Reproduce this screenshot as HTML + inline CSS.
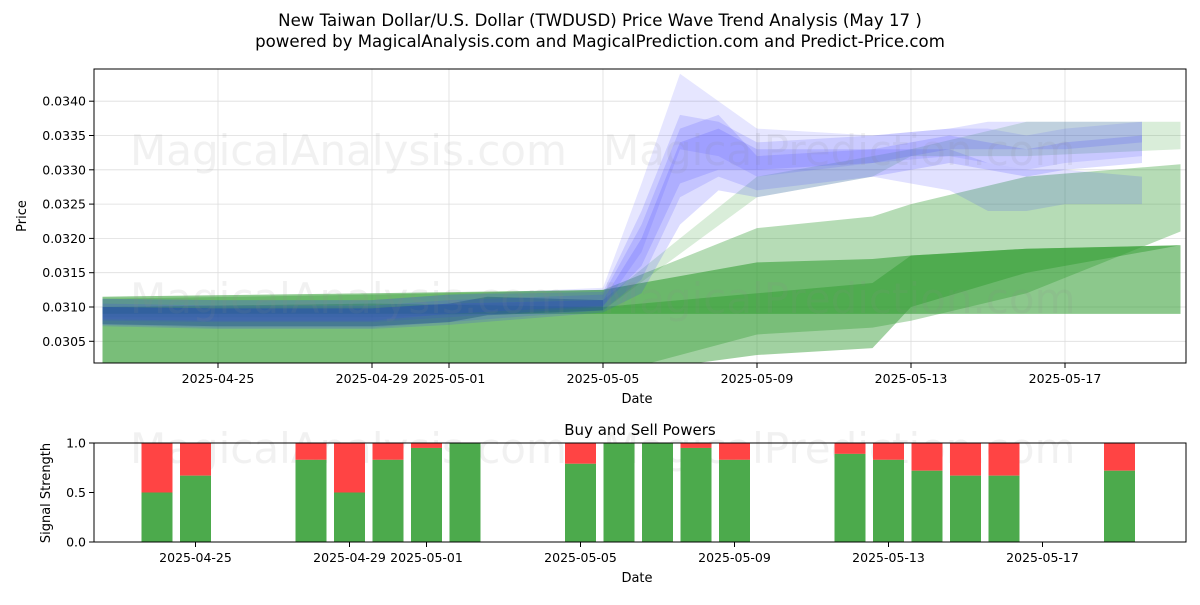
<!DOCTYPE html>
<html><head><meta charset="utf-8"><style>
body{margin:0;background:#fff;font-family:"Liberation Sans","DejaVu Sans",sans-serif}
svg text{font-family:"DejaVu Sans","Liberation Sans",sans-serif}
</style></head><body>
<svg id="c" width="1200" height="600" xmlns="http://www.w3.org/2000/svg">
<rect width="1200" height="600" fill="#fff"/>
<text x="600" y="26" font-size="16.6" text-anchor="middle">New Taiwan Dollar/U.S. Dollar (TWDUSD) Price Wave Trend Analysis (May 17 )</text>
<text x="600" y="47" font-size="16.6" text-anchor="middle">powered by MagicalAnalysis.com and MagicalPrediction.com and Predict-Price.com</text>
<defs><clipPath id="cp1"><rect x="94" y="69" width="1092" height="294"/></clipPath><clipPath id="cp2"><rect x="94" y="443" width="1092" height="99"/></clipPath></defs>
<g id="topg"></g>
<g id="botg"></g>
</svg>
<script>
const tickDates=["2025-04-25","2025-04-29","2025-05-01","2025-05-05","2025-05-09","2025-05-13","2025-05-17"];
const tickDays=[3,7,9,13,17,21,25];
const yTicks=[0.0305,0.0310,0.0315,0.0320,0.0325,0.0330,0.0335,0.0340];
const blueDays=[0,3,7,9,13,14,15,16,17,20,22,23,24,25,27];
const blueLow1=[0.03072,0.03068,0.03068,0.03074,0.03092,0.0312,0.0322,0.0327,0.0326,0.0329,0.0331,0.0330,0.0329,0.0330,0.0331];
const blueHigh1=[0.03100,0.03098,0.03098,0.03105,0.03110,0.0320,0.0334,0.0336,0.0333,0.0333,0.0335,0.0334,0.0333,0.0334,0.0335];
const blueLow2=[0.03080,0.03078,0.03078,0.03085,0.03100,0.0318,0.0333,0.0332,0.0329,0.0331,0.0332,0.0331,0.0330,0.0331,0.0332];
const blueHigh2=[0.03112,0.03110,0.03110,0.03118,0.03128,0.0328,0.0344,0.0340,0.0336,0.0335,0.0336,0.0336,0.0335,0.0336,0.0337];
const blueLow3=[0.03074,0.03070,0.03070,0.03078,0.03095,0.0314,0.0326,0.0329,0.0327,0.0329,0.0327,0.0324,0.0324,0.0325,0.0325];
const blueHigh3=[0.03105,0.03102,0.03102,0.03110,0.03118,0.0322,0.0336,0.0338,0.0332,0.0333,0.0333,0.0331,0.0330,0.0330,0.0329];
const blueLow4=[0.03082,0.03080,0.03080,0.03090,0.03102,0.0316,0.0328,0.0330,0.0330,0.0331,0.0333,0.0333,0.0333,0.0333,0.0334];
const blueHigh4=[0.03112,0.03110,0.03110,0.03118,0.03122,0.0324,0.0338,0.0337,0.0334,0.0335,0.0336,0.0337,0.0337,0.0337,0.0337];
const histDays=[0,3,7,9,10,13];
const histLow=[0.03075,0.03072,0.03072,0.03078,0.03088,0.03095];
const histHigh=[0.03100,0.03098,0.03098,0.03105,0.03115,0.03110];
const greenDays=[0,7,13,17,20,21,24,28];
const gLow1=[0.03090,0.03090,0.03090,0.03090,0.03090,0.03090,0.03090,0.03090];
const gHigh1=[0.03115,0.03120,0.03125,0.03165,0.03170,0.03175,0.03185,0.03190];
const gLow2=[0.03000,0.03000,0.03000,0.03030,0.03040,0.03100,0.03150,0.03190];
const gHigh2=[0.03100,0.03105,0.03100,0.03120,0.03135,0.03175,0.03185,0.03190];
const gLow3=[0.03000,0.03000,0.03000,0.03060,0.03070,0.03080,0.03120,0.03210];
const gHigh3=[0.03112,0.03118,0.03125,0.03215,0.03232,0.03250,0.03290,0.03308];
const gLow4=[0.03085,0.03085,0.03095,0.03260,0.03290,0.03320,0.03320,0.03330];
const gHigh4=[0.03100,0.03100,0.03110,0.03290,0.03320,0.03330,0.03370,0.03370];
const barDays=[2,3,6,7,8,9,10,13,14,15,16,17,20,21,22,23,24,27];
const buyVals=[0.5,0.67,0.83,0.5,0.83,0.95,1.0,0.79,1.0,1.0,0.95,0.83,0.89,0.83,0.72,0.67,0.67,0.72];

const NS="http://www.w3.org/2000/svg";
function mk(p,t,a){const e=document.createElementNS(NS,t);for(const k in a)e.setAttribute(k,a[k]);p.appendChild(e);return e;}
const gTop=document.getElementById('topg'),gBot=document.getElementById('botg');
const X1=d=>102.5+d*38.5, Y1=v=>307-(v-0.031)/0.0005*34.3;
const X2=d=>80+d*38.5, Y2=v=>542-v*99;
tickDays.forEach((d,i)=>{const x=X1(d);
 const g=mk(gTop,'line',{x1:x,x2:x,y1:69,y2:363,stroke:'#ddd','stroke-width':0.8});
 mk(gTop,'line',{x1:x,x2:x,y1:363,y2:368,stroke:'#000'});
 const t=mk(gTop,'text',{x:x,y:383,'font-size':12.5,'text-anchor':'middle'});t.textContent=tickDates[i];});
yTicks.forEach(v=>{const y=Y1(v);
 mk(gTop,'line',{x1:94,x2:1186,y1:y,y2:y,stroke:'#ddd','stroke-width':0.8});
 mk(gTop,'line',{x1:89,x2:94,y1:y,y2:y,stroke:'#000'});
 const t=mk(gTop,'text',{x:86,y:y+4.5,'font-size':12.5,'text-anchor':'end'});t.textContent=v.toFixed(4);});
let t=mk(gTop,'text',{x:637,y:403,'font-size':13,'text-anchor':'middle'});t.textContent='Date';
t=mk(gTop,'text',{x:26,y:216,'font-size':13,'text-anchor':'middle',transform:'rotate(-90 26 216)'});t.textContent='Price';
const wm=[[130,165,'MagicalAnalysis.com'],[603,165,'MagicalPrediction.com'],[130,313,'MagicalAnalysis.com'],[603,313,'MagicalPrediction.com'],[130,463,'MagicalAnalysis.com'],[603,463,'MagicalPrediction.com']];
const pl=mk(gTop,'g',{'clip-path':'url(#cp1)'});
function band(days,lo,hi,fill,op,name){let pts=days.map((d,i)=>X1(d)+','+Y1(hi[i]));for(let i=days.length-1;i>=0;i--)pts.push(X1(days[i])+','+Y1(lo[i]));
 const p=mk(pl,'polygon',{points:pts.join(' '),fill:fill,'fill-opacity':op});}
band(greenDays,gLow3,gHigh3,'#2e9a2e',0.35,'prediction-band-3');
band(greenDays,gLow2,gHigh2,'#2e9a2e',0.45,'prediction-band-2');
band(greenDays,gLow1,gHigh1,'#2e9a2e',0.55,'prediction-band-1');
band(greenDays,gLow4,gHigh4,'#2e9a2e',0.18,'prediction-band-4');
band(histDays,histLow,histHigh,'#1a6a50',0.45,'history-band');
band(blueDays,blueLow1,blueHigh1,'#3333ff',0.17,'wave-band-1');
band(blueDays,blueLow2,blueHigh2,'#3333ff',0.12,'wave-band-2');
band(blueDays,blueLow3,blueHigh3,'#3333ff',0.15,'wave-band-3');
band(blueDays,blueLow4,blueHigh4,'#3333ff',0.15,'wave-band-4');
mk(gTop,'rect',{x:94,y:69,width:1092,height:294,fill:'none',stroke:'#000','stroke-width':1});
wm.forEach(w=>{const e=mk(gTop,'text',{x:w[0],y:w[1],'font-size':42,fill:'#888','fill-opacity':0.12});e.textContent=w[2];});
t=mk(gBot,'text',{x:640,y:435,'font-size':15,'text-anchor':'middle'});t.textContent='Buy and Sell Powers';
const bg=mk(gBot,'g',{'clip-path':'url(#cp2)'});
barDays.forEach((d,i)=>{const x=X2(d)-15.5,v=buyVals[i];
 const r=mk(bg,'rect',{x:x,y:Y2(1),width:31,height:Y2(v)-Y2(1),fill:'#ff4444'});
 const b=mk(bg,'rect',{x:x,y:Y2(v),width:31,height:Y2(0)-Y2(v),fill:'#4caa4c'});});
mk(gBot,'rect',{x:94,y:443,width:1092,height:99,fill:'none',stroke:'#000'});
tickDays.forEach((d,i)=>{const x=X2(d);mk(gBot,'line',{x1:x,x2:x,y1:542,y2:547,stroke:'#000'});
 const e=mk(gBot,'text',{x:x,y:562,'font-size':12.5,'text-anchor':'middle'});e.textContent=tickDates[i];});
[0,0.5,1].forEach(v=>{const y=Y2(v);mk(gBot,'line',{x1:89,x2:94,y1:y,y2:y,stroke:'#000'});
 const e=mk(gBot,'text',{x:86,y:y+4.5,'font-size':12.5,'text-anchor':'end'});e.textContent=v.toFixed(1);});
t=mk(gBot,'text',{x:637,y:582,'font-size':13,'text-anchor':'middle'});t.textContent='Date';
t=mk(gBot,'text',{x:50,y:493,'font-size':13,'text-anchor':'middle',transform:'rotate(-90 50 493)'});t.textContent='Signal Strength';
</script>
</body></html>
